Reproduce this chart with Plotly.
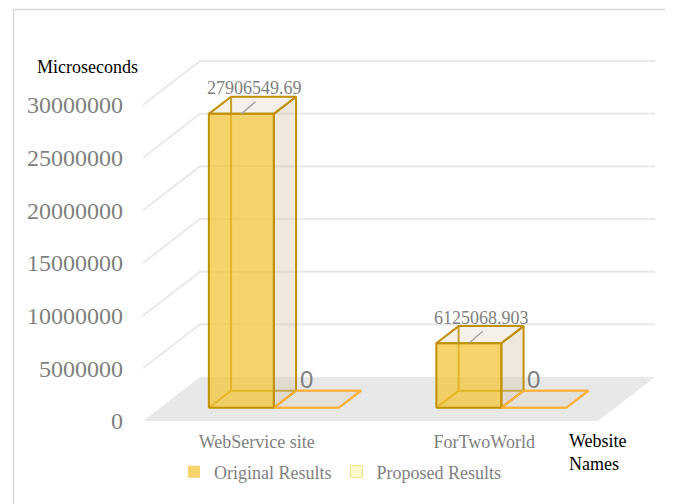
import plotly.graph_objects as go

# ---------------- data ----------------
categories = ["WebService site", "ForTwoWorld"]
series_names = ["Original Results", "Proposed Results"]
original_values = [27906549.69, 6125068.903]
proposed_values = [0, 0]
y_tick_values = [0, 5000000, 10000000, 15000000, 20000000, 25000000, 30000000]
y_axis_title = "Microseconds"
x_axis_title = "Website<br>Names"

# ---------------- layout constants (pixels) ----------------
PAGE_MARGIN = 8  # default body margin of the html page
W, H = 673 - PAGE_MARGIN, 504 - PAGE_MARGIN


def R(px):
    """convert a screen pixel position to figure pixel position"""
    return px - PAGE_MARGIN


PLOT_L, PLOT_R, PLOT_T, PLOT_B = R(143), R(660), R(30), R(425)
FRONT_ZERO_PX = R(421)
PX_PER_VALUE = 316 / 30e6
PX_PER_CAT = 227.5
DEPTH_DX_PX, DEPTH_DY_PX = 57, 44
BAR_W_PX = 65
D0, D1 = 0.3, 0.69
DMID = (D0 + D1) / 2

SERIF = "Liberation Serif"
SANS = "Liberation Sans"
GREY = "#7F7F7F"


def vx(px):
    return px / PX_PER_CAT


def vy(px):
    return px / PX_PER_VALUE


def paper_x(px):
    return (R(px) - PLOT_L) / (PLOT_R - PLOT_L)


def paper_y(py):
    return (PLOT_B - R(py)) / (PLOT_B - PLOT_T)


def proj(x, v, d):
    return x + d * vx(DEPTH_DX_PX), v + d * vy(DEPTH_DY_PX)


x_range = [-0.5, -0.5 + vx(PLOT_R - PLOT_L)]
y_range = [-vy(PLOT_B - FRONT_ZERO_PX), vy(FRONT_ZERO_PX - PLOT_T)]
BW = vx(BAR_W_PX)

fig = go.Figure()


def poly(points, line_color, line_width, fill=None, z=0, close=True):
    xs = [p[0] for p in points]
    ys = [p[1] for p in points]
    if close:
        xs.append(xs[0])
        ys.append(ys[0])
    fig.add_trace(go.Scatter(
        x=xs, y=ys, mode="lines",
        line=dict(color=line_color, width=line_width),
        fill="toself" if fill else None,
        fillcolor=fill,
        hoverinfo="skip", showlegend=False, zorder=z,
    ))


# floor
n = len(categories)
floor = [proj(-0.5, 0, 0), proj(n - 0.5, 0, 0), proj(n - 0.5, 0, 1), proj(-0.5, 0, 1)]
poly(floor, "rgba(0,0,0,0)", 0, fill="#E8E8E8", z=0)

# walls gridlines
for v in y_tick_values:
    if v <= 0:
        continue
    pts = [proj(-0.5, v, 0), proj(-0.5, v, 1), proj(n - 0.5, v, 1)]
    poly(pts, "#E8E8E8", 2, z=1, close=False)

styles = {
    "Original Results": dict(front="rgba(242,196,50,0.72)", edge="#BF9000",
                             side="rgba(215,200,170,0.4)", top="rgba(215,200,170,0.25)",
                             legend_line="rgba(0,0,0,0)"),
    "Proposed Results": dict(front="#FFF8CC", edge="#FFB03B",
                             side="rgba(215,200,170,0.2)", top="rgba(215,200,170,0.2)",
                             legend_line="#F2DF8C"),
}

series_values = [original_values, proposed_values]
series_x_offsets = [-1, 0]  # cluster: original left of category centre, proposed right

for s, (name, vals) in enumerate(zip(series_names, series_values)):
    st = styles[name]
    off = series_x_offsets[s]
    for i, v in enumerate(vals):
        x0 = i + off * BW
        x1 = x0 + BW
        # inner (hidden) edges seen through translucent front
        poly([proj(x0, 0, D1), proj(x0, v, D1)], st["edge"], 2, z=2, close=False)
        poly([proj(x0, 0, D0), proj(x0, 0, D1), proj(x1, 0, D1)], st["edge"], 2, z=2, close=False)
        # side face
        poly([proj(x1, 0, D0), proj(x1, 0, D1), proj(x1, v, D1), proj(x1, v, D0)],
             st["edge"], 2, fill=st["side"], z=3)
        # top face
        poly([proj(x0, v, D0), proj(x1, v, D0), proj(x1, v, D1), proj(x0, v, D1)],
             st["edge"], 2, fill=st["top"], z=3)
        # front outline
        poly([proj(x0, 0, D0), proj(x1, 0, D0), proj(x1, v, D0), proj(x0, v, D0)],
             st["edge"], 2, z=5)

    # front faces as real bars
    fig.add_trace(go.Bar(
        name=name,
        x=[i + off * BW + BW / 2 + D0 * vx(DEPTH_DX_PX) for i in range(len(vals))],
        y=vals,
        base=[D0 * vy(DEPTH_DY_PX)] * len(vals),
        width=BW,
        marker=dict(color=st["front"], line=dict(color=st["legend_line"], width=1)),
        hoverinfo="skip",
        zorder=4,
    ))

# data labels
for s, (name, vals) in enumerate(zip(series_names, series_values)):
    off = series_x_offsets[s]
    for i, v in enumerate(vals):
        xc = i + off * BW + BW / 2
        ax, ay = proj(xc, v, DMID)
        if v > 0:
            fx, fy = proj(xc, v, D0)
            poly([(fx, fy), (fx + vx(14), fy + vy(12))], "#A6A6A6", 1.5, z=6, close=False)
            fig.add_annotation(x=ax, y=ay, xref="x", yref="y", text=str(v), showarrow=False,
                               xshift=2, yshift=17,
                               font=dict(family=SERIF, size=18, color=GREY))
        else:
            fig.add_annotation(x=ax, y=ay, xref="x", yref="y", text=str(v), showarrow=False,
                               xshift=-11, yshift=20,
                               font=dict(family=SANS, size=24, color=GREY))

# axis titles
fig.add_annotation(x=paper_x(35), y=paper_y(67), xref="paper", yref="paper",
                   xanchor="left", yanchor="middle", text=y_axis_title, showarrow=False,
                   font=dict(family=SERIF, size=18, color="black"))
fig.add_annotation(x=paper_x(567), y=paper_y(429), xref="paper", yref="paper",
                   xanchor="left", yanchor="top", align="left", text=x_axis_title,
                   showarrow=False, font=dict(family=SERIF, size=18, color="black"))

# chart border
fig.add_shape(type="rect", xref="paper", yref="paper",
              x0=paper_x(13.5), x1=paper_x(666.5), y0=paper_y(530), y1=paper_y(9.5),
              line=dict(color="#D9D9D9", width=1.5), layer="below")

fig.update_layout(
    width=W, height=H,
    margin=dict(l=PLOT_L, r=W - PLOT_R, t=PLOT_T, b=H - PLOT_B),
    paper_bgcolor="white", plot_bgcolor="rgba(0,0,0,0)",
    barmode="overlay",
    hovermode=False,
    showlegend=True,
    legend=dict(orientation="h", x=paper_x(174), xanchor="left", y=paper_y(472), yanchor="middle",
                font=dict(family=SERIF, size=18, color=GREY), itemwidth=30,
                bgcolor="rgba(0,0,0,0)", traceorder="normal"),
    xaxis=dict(range=x_range, tickmode="array", tickvals=list(range(n)), ticktext=categories,
               showgrid=False, zeroline=False, showline=False, ticks="",
               tickfont=dict(family=SERIF, size=18, color=GREY), ticklabelstandoff=4),
    yaxis=dict(range=y_range, tickmode="array", tickvals=y_tick_values, tickformat="d",
               showgrid=False, zeroline=False, showline=False, ticks="",
               tickfont=dict(family=SERIF, size=24, color=GREY), ticklabelstandoff=19),
)

fig.write_html("out.html")
